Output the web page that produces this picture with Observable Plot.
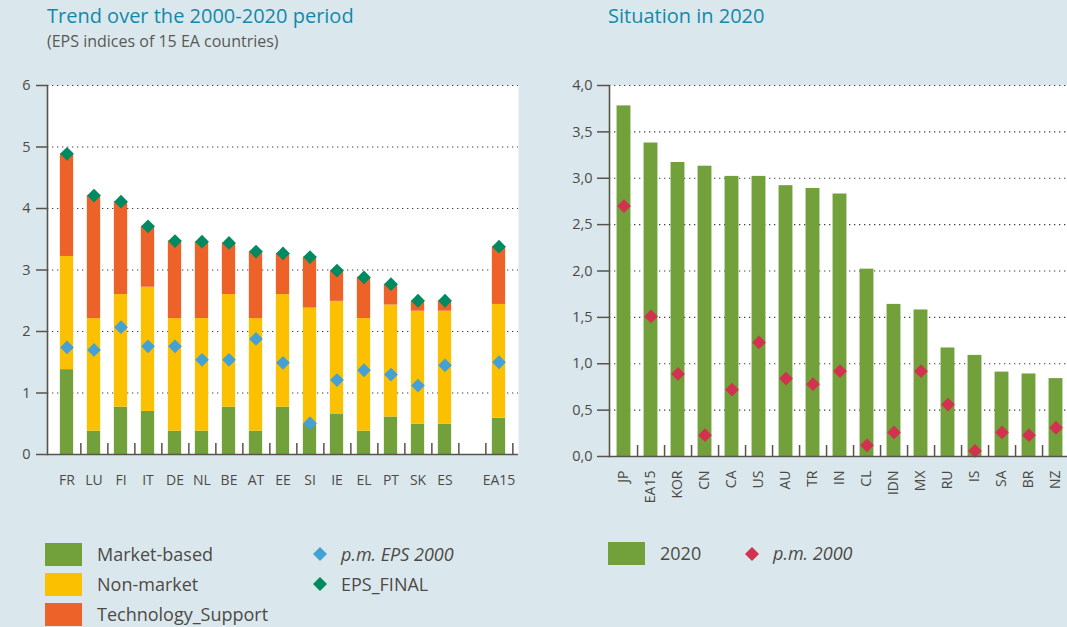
<!DOCTYPE html>
<html><head><meta charset="utf-8">
<script src="https://cdn.jsdelivr.net/npm/d3@7"></script>
<script src="https://cdn.jsdelivr.net/npm/@observablehq/plot@0.6"></script>
<style>
html,body{margin:0;padding:0;overflow:hidden;background:#dae8ee;}
#root{position:relative;width:1067px;height:627px;background:#dae8ee;overflow:hidden;font-family:"Open Sans",sans-serif;color:#4d4a45;}
.abs{position:absolute;white-space:nowrap;line-height:1;}
.title{color:#1389a9;font-size:20px;}
.sub{font-size:16px;color:#5a5853;}
.leg{font-size:18px;color:#4d4a45;}
.sw{position:absolute;width:37px;height:23px;}
svg.chart{position:absolute;}
</style></head><body><div id="root"></div>
<script>
// ---------- Data: left chart (EPS indices, 15 EA countries) ----------
const leftCountries = ["FR","LU","FI","IT","DE","NL","BE","AT","EE","SI","IE","EL","PT","SK","ES","EA15"];
const marketBased   = [1.38,0.38,0.77,0.70,0.38,0.38,0.77,0.38,0.77,0.50,0.65,0.38,0.61,0.49,0.49,0.59];
const nonMarket     = [1.84,1.83,1.83,2.02,1.83,1.83,1.83,1.83,1.83,1.88,1.84,1.83,1.82,1.84,1.84,1.85];
const techSupport   = [1.67,2.00,1.51,0.99,1.26,1.25,0.84,1.09,0.67,0.83,0.50,0.67,0.34,0.17,0.17,0.94];
const epsFinal      = [4.89,4.21,4.11,3.71,3.47,3.46,3.44,3.30,3.27,3.21,2.99,2.88,2.77,2.50,2.50,3.38];
const eps2000EA     = [1.74,1.70,2.07,1.76,1.76,1.54,1.54,1.88,1.49,0.51,1.21,1.37,1.30,1.12,1.45,1.50];
const leftTicks     = [0,1,2,3,4,5,6];
const components    = ["Market-based","Non-market","Technology_Support"];

// ---------- Data: right chart (situation in 2020) ----------
const rightCountries = ["JP","EA15","KOR","CN","CA","US","AU","TR","IN","CL","IDN","MX","RU","IS","SA","BR","NZ"];
const eps2020        = [3.78,3.38,3.17,3.13,3.02,3.02,2.92,2.89,2.83,2.02,1.64,1.58,1.17,1.09,0.91,0.89,0.84];
const eps2000World   = [2.70,1.51,0.89,0.23,0.72,1.23,0.84,0.78,0.92,0.12,0.26,0.92,0.56,0.06,0.26,0.23,0.31];
const rightTicks     = [0,0.5,1,1.5,2,2.5,3,3.5,4];

// ---------- Styles ----------
const compColors = ["#72a03b","#fbc000","#ec6229"];
const blueDiamond = "#44a1d6", tealDiamond = "#008a62", redDiamond = "#d2314f", green2020 = "#72a03b";
const axisColor = "#58534b", textColor = "#4d4a45", gridColor = "#3f3d3a";
const FONT = "Open Sans, sans-serif";

const root = document.getElementById("root");
function addDiv(cls, text, x, y, extra) {
  const d = document.createElement("div");
  d.className = "abs " + cls; d.textContent = text;
  d.style.left = x + "px"; d.style.top = y + "px";
  if (extra) Object.assign(d.style, extra);
  root.appendChild(d); return d;
}

// ---------- Left chart ----------
const GAP = "gap";
const leftDomain = [...leftCountries.slice(0, 15), GAP, "EA15"];
const stackRows = [];
leftCountries.forEach((c, i) => {
  stackRows.push({country: c, component: components[0], value: marketBased[i]});
  stackRows.push({country: c, component: components[1], value: nonMarket[i]});
  stackRows.push({country: c, component: components[2], value: techSupport[i]});
});
const LW = 540, LH = 440, LML = 47, LMR = 22, LMT = 25, LMB = 46;
const lStep = (LW - LML - LMR) / leftDomain.length;
const lInset = (lStep - 14) / 2;
const lPx = (LH - LMT - LMB) / 6;

const left = Plot.plot({
  width: LW, height: LH, marginLeft: LML, marginRight: LMR, marginTop: LMT, marginBottom: LMB,
  style: {background: "transparent", fontFamily: FONT, color: textColor, overflow: "visible"},
  x: {domain: leftDomain, padding: 0, axis: null, label: null},
  y: {domain: [0, 6], axis: null, label: null},
  color: {domain: components, range: compColors},
  marks: [
    Plot.frame({fill: "white", stroke: null}),
    Plot.gridY(leftTicks, {stroke: gridColor, strokeOpacity: 1, strokeDasharray: "1.3,3.7", strokeWidth: 1.1}),
    Plot.barY(stackRows, {x: "country", y: "value", fill: "component", insetLeft: lInset, insetRight: lInset}),
    Plot.dot(leftCountries.map((c, i) => ({country: c, v: eps2000EA[i]})), {x: "country", y: "v", symbol: "diamond2", r: 6.2, fill: blueDiamond}),
    Plot.dot(leftCountries.map((c, i) => ({country: c, v: epsFinal[i]})), {x: "country", y: "v", symbol: "diamond2", r: 6.2, fill: tealDiamond}),
    Plot.ruleX(leftDomain, {x: d => d, y1: 0, y2: 11 / lPx, dx: lStep / 2, stroke: axisColor, strokeWidth: 1.5}),
    Plot.ruleY([0], {stroke: axisColor, strokeWidth: 1.6}),
    Plot.frame({anchor: "left", stroke: axisColor, strokeWidth: 1.6}),
    Plot.axisY(leftTicks, {tickSize: 11, tickPadding: 6, fontSize: 14.5, stroke: axisColor, strokeWidth: 1.5, label: null, tickFormat: d => String(d)}),
    Plot.axisX({tickSize: 0, tickPadding: 21, fontSize: 14, label: null, tickFormat: d => d === GAP ? "" : d})
  ]
});
left.classList.add("chart");
left.style.left = "0px"; left.style.top = "60px";
root.appendChild(left);

// ---------- Right chart ----------
const RW = 515, RH = 440, RML = 49, RMR = 5, RMT = 25, RMB = 44;
const rStep = (RW - RML - RMR) / rightCountries.length;
const rInset = (rStep - 14) / 2;
const rPx = (RH - RMT - RMB) / 4;
const right = Plot.plot({
  width: RW, height: RH, marginLeft: RML, marginRight: RMR, marginTop: RMT, marginBottom: RMB,
  style: {background: "transparent", fontFamily: FONT, color: textColor, overflow: "visible"},
  x: {domain: rightCountries, padding: 0, axis: null, label: null},
  y: {domain: [0, 4], axis: null, label: null},
  marks: [
    Plot.frame({fill: "white", stroke: null}),
    Plot.gridY(rightTicks, {stroke: gridColor, strokeOpacity: 1, strokeDasharray: "1.3,3.7", strokeWidth: 1.1}),
    Plot.barY(rightCountries.map((c, i) => ({country: c, v: eps2020[i]})), {x: "country", y: "v", fill: green2020, insetLeft: rInset, insetRight: rInset}),
    Plot.dot(rightCountries.map((c, i) => ({country: c, v: eps2000World[i]})), {x: "country", y: "v", symbol: "diamond2", r: 6.2, fill: redDiamond}),
    Plot.ruleX(rightCountries, {x: d => d, y1: 0, y2: 11 / rPx, dx: rStep / 2, stroke: axisColor, strokeWidth: 1.5}),
    Plot.ruleY([0], {stroke: axisColor, strokeWidth: 1.6}),
    Plot.frame({anchor: "left", stroke: axisColor, strokeWidth: 1.6}),
    Plot.axisY(rightTicks, {tickSize: 12, tickPadding: 5, fontSize: 14.5, stroke: axisColor, strokeWidth: 1.5, label: null, tickFormat: d => d.toFixed(1).replace(".", ",")}),
    Plot.axisX({tickSize: 0, tickPadding: 14, fontSize: 14, tickRotate: -90, label: null})
  ]
});
right.classList.add("chart");
right.style.left = "560px"; right.style.top = "60px";
root.appendChild(right);

// ---------- Titles ----------
addDiv("title", "Trend over the 2000-2020 period", 47, 6);
addDiv("sub", "(EPS indices of 15 EA countries)", 47, 33);
addDiv("title", "Situation in 2020", 608, 6);

// ---------- Legends ----------
function swatch(x, y, color) {
  const s = document.createElement("div");
  s.className = "sw"; s.style.left = x + "px"; s.style.top = y + "px"; s.style.background = color;
  root.appendChild(s);
}
function diamond(cx, cy, color) {
  const ns = "http://www.w3.org/2000/svg";
  const s = document.createElementNS(ns, "svg");
  s.setAttribute("width", 16); s.setAttribute("height", 16);
  s.style.position = "absolute"; s.style.left = (cx - 8) + "px"; s.style.top = (cy - 8) + "px";
  const p = document.createElementNS(ns, "path");
  p.setAttribute("d", "M8,1L15,8L8,15L1,8Z"); p.setAttribute("fill", color);
  s.appendChild(p); root.appendChild(s);
}
const legRows = [543, 573, 603];
components.forEach((c, i) => {
  swatch(45, legRows[i], compColors[i]);
  addDiv("leg", c, 97, legRows[i] + 2);
});
diamond(320, 554, blueDiamond);
addDiv("leg", "p.m. EPS 2000", 341, 545, {fontStyle: "italic"});
diamond(320, 584, tealDiamond);
addDiv("leg", "EPS_FINAL", 341, 575);

swatch(608, 542, green2020);
addDiv("leg", "2020", 660, 544);
diamond(752, 554, redDiamond);
addDiv("leg", "p.m. 2000", 773, 544, {fontStyle: "italic"});
</script>
</body></html>
